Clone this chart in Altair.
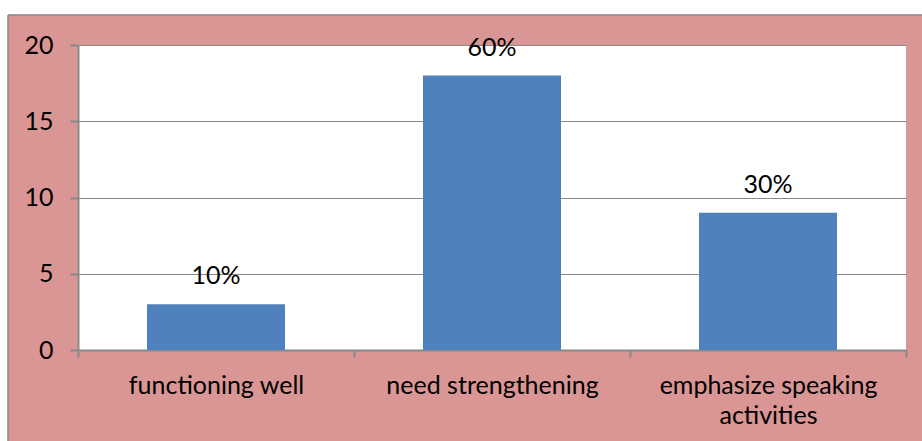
import altair as alt
import pandas as pd

categories = ["functioning well", "need strengthening", "emphasize speaking activities"]
counts = [3, 18, 9]
pct_labels = ["10%", "60%", "30%"]
y_ticks = [0, 5, 10, 15, 20]

df = pd.DataFrame({"category": categories, "count": counts, "pct": pct_labels})

W, H = 828, 305
PINK = "#D99694"
BLUE = "#4F81BD"
GRAY = "#898989"
FONT = "Lato"
FS = 25

x_enc = alt.X(
    "category:N", sort=categories, title=None,
    scale=alt.Scale(paddingInner=0, paddingOuter=0),
    axis=alt.Axis(
        labelAngle=0, tickBand="extent", tickSize=7, tickColor=GRAY, tickWidth=2,
        domainColor=GRAY, domainWidth=2, labelFont=FONT, labelFontSize=FS,
        labelColor="black", labelPadding=16, labelLineHeight=30, labelLimit=0,
        labelExpr="datum.label == 'emphasize speaking activities' ? ['emphasize speaking', 'activities'] : datum.label",
    ),
)
y_enc = alt.Y(
    "count:Q", title=None,
    scale=alt.Scale(domain=[0, 20]),
    axis=alt.Axis(
        values=y_ticks, grid=True, gridColor=GRAY, gridWidth=1, tickSize=8,
        tickColor=GRAY, tickWidth=2, domainColor=GRAY, domainWidth=2,
        labelFont=FONT, labelFontSize=FS, labelColor="black", labelPadding=17,
    ),
)

base = alt.Chart(df)
bars = base.mark_bar(color=BLUE, width=alt.RelativeBandSize(0.5)).encode(x=x_enc, y=y_enc)
texts = base.mark_text(font=FONT, fontSize=FS, color="black", baseline="middle", dy=-28).encode(
    x=alt.X("category:N", sort=categories),
    y=alt.Y("count:Q"),
    text="pct:N",
)

dec = alt.Chart(pd.DataFrame({"d": [0]}))
top_strip = dec.mark_rect(color="white").encode(
    x=alt.value(-78), x2=alt.value(W + 16), y=alt.value(-45), y2=alt.value(-30))
left_strip = dec.mark_rect(color="white").encode(
    x=alt.value(-78), x2=alt.value(-70), y=alt.value(-45), y2=alt.value(H + 91))
border_top = dec.mark_rule(color=GRAY, strokeWidth=1.5).encode(
    x=alt.value(-70), x2=alt.value(W + 16), y=alt.value(-30))
border_left = dec.mark_rule(color=GRAY, strokeWidth=1.5).encode(
    x=alt.value(-70), y=alt.value(-30), y2=alt.value(H + 91))

chart = alt.layer(top_strip, left_strip, border_top, border_left, bars, texts).properties(
    width=W, height=H,
    autosize=alt.AutoSizeParams(type="none"),
    padding={"left": 78, "top": 45, "right": 16, "bottom": 91},
    background=PINK,
).configure_view(fill="white", strokeWidth=0)

chart.save("out.html", embed_options={"renderer": "svg", "actions": False})
